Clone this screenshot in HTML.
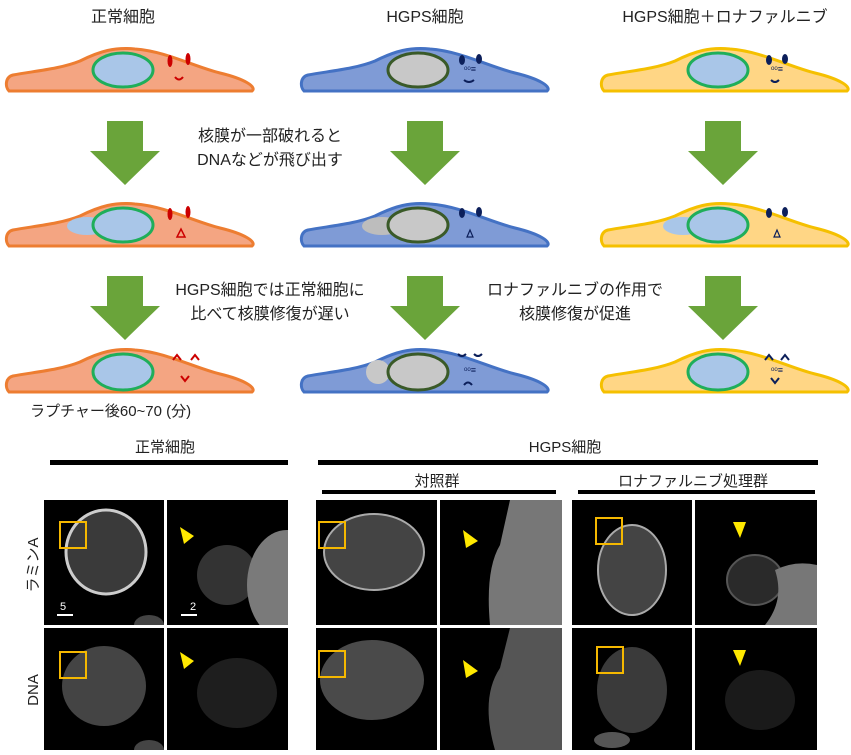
<html><head><style>
body{margin:0;background:#fff;width:851px;height:755px;overflow:hidden;font-family:"Liberation Sans","Noto Sans CJK JP",sans-serif;}
svg{position:absolute;left:0;top:0}
</style></head><body>
<svg width="851" height="755" viewBox="0 0 851 755" font-family="Liberation Sans, Noto Sans CJK JP, sans-serif">
<defs>
<path id="cell" d="M4,44 C0,40 0,30 8,28 C30,24 55,22 75,14 C95,4 110,0 130,2 C160,4 190,20 215,26 C240,32 252,40 247,44 Z"/>
<g id="arrow"><polygon points="17,0 53,0 53,30 70,30 35,64 0,30 17,30" fill="#6aa43a"/></g>
<radialGradient id="nuc" cx="50%" cy="50%" r="50%"><stop offset="0" stop-color="#9a9a9a"/><stop offset="0.85" stop-color="#6a6a6a"/><stop offset="1" stop-color="#d0d0d0"/></radialGradient>
<radialGradient id="blob" cx="50%" cy="50%" r="50%"><stop offset="0" stop-color="#666"/><stop offset="1" stop-color="#222"/></radialGradient>
</defs>
<g font-size="16" fill="#222" text-anchor="middle">
<text x="123" y="22">正常細胞</text>
<text x="425" y="22">HGPS細胞</text>
<text x="725" y="22">HGPS細胞＋ロナファルニブ</text>
<text x="270" y="141">核膜が一部破れると</text>
<text x="270" y="165">DNAなどが飛び出す</text>
<text x="270" y="295">HGPS細胞では正常細胞に</text>
<text x="270" y="319">比べて核膜修復が遅い</text>
<text x="575" y="295">ロナファルニブの作用で</text>
<text x="575" y="319">核膜修復が促進</text>
</g>
<g>
<g transform="translate(5,47)"><use href="#cell" fill="#f4a582" stroke="#ed7d31" stroke-width="3"/><ellipse cx="118" cy="23" rx="30" ry="17" fill="#a9c6e8" stroke="#1fae5a" stroke-width="3"/><ellipse cx="165" cy="14" rx="2.5" ry="6" fill="#c00"/><ellipse cx="183" cy="12" rx="2.5" ry="6" fill="#c00"/><path d="M170,30 q4,5 8,0" stroke="#c00" stroke-width="2" fill="none"/></g>
<g transform="translate(300,47)"><use href="#cell" fill="#7f9bd6" stroke="#4472c4" stroke-width="3"/><ellipse cx="118" cy="23" rx="30" ry="17" fill="#c8c8c8" stroke="#3a5a28" stroke-width="3"/><ellipse cx="162" cy="13" rx="3" ry="5" fill="#0c1f5a"/><ellipse cx="179" cy="12" rx="3" ry="5" fill="#0c1f5a"/><text x="170" y="25" font-size="9" fill="#0c1f5a" text-anchor="middle">ᵒᵒ≡</text><path d="M164,33 q5,4 10,0" stroke="#0c1f5a" stroke-width="2" fill="none"/></g>
<g transform="translate(600,47)"><use href="#cell" fill="#ffd685" stroke="#f5c000" stroke-width="3"/><ellipse cx="118" cy="23" rx="30" ry="17" fill="#a9c6e8" stroke="#1fae5a" stroke-width="3"/><ellipse cx="169" cy="13" rx="3" ry="5" fill="#0c1f5a"/><ellipse cx="185" cy="12" rx="3" ry="5" fill="#0c1f5a"/><text x="177" y="25" font-size="9" fill="#0c1f5a" text-anchor="middle">ᵒᵒ≡</text><path d="M171,33 q4,4 8,0" stroke="#0c1f5a" stroke-width="2" fill="none"/></g>
</g>
<g transform="translate(0,155)">
<g transform="translate(5,47)"><use href="#cell" fill="#f4a582" stroke="#ed7d31" stroke-width="3"/><ellipse cx="82" cy="24" rx="20" ry="9" fill="#a9c6e8"/><ellipse cx="118" cy="23" rx="30" ry="17" fill="#a9c6e8" stroke="#1fae5a" stroke-width="3"/><ellipse cx="165" cy="12" rx="2.5" ry="6" fill="#c00"/><ellipse cx="183" cy="10" rx="2.5" ry="6" fill="#c00"/><path d="M172,35 l4,-8 l4,8z" stroke="#c00" stroke-width="1.5" fill="none"/></g>
<g transform="translate(300,47)"><use href="#cell" fill="#7f9bd6" stroke="#4472c4" stroke-width="3"/><ellipse cx="82" cy="24" rx="20" ry="9" fill="#bdbdbd"/><ellipse cx="118" cy="23" rx="30" ry="17" fill="#c8c8c8" stroke="#3a5a28" stroke-width="3"/><ellipse cx="162" cy="11" rx="3" ry="5" fill="#0c1f5a"/><ellipse cx="179" cy="10" rx="3" ry="5" fill="#0c1f5a"/><path d="M167,35 l3,-7 l3,7z" stroke="#0c1f5a" stroke-width="1.2" fill="none"/></g>
<g transform="translate(600,47)"><use href="#cell" fill="#ffd685" stroke="#f5c000" stroke-width="3"/><ellipse cx="83" cy="24" rx="20" ry="9" fill="#a9c6e8"/><ellipse cx="118" cy="23" rx="30" ry="17" fill="#a9c6e8" stroke="#1fae5a" stroke-width="3"/><ellipse cx="169" cy="11" rx="3" ry="5" fill="#0c1f5a"/><ellipse cx="185" cy="10" rx="3" ry="5" fill="#0c1f5a"/><path d="M174,35 l3,-7 l3,7z" stroke="#0c1f5a" stroke-width="1.2" fill="none"/></g>
</g>
<g transform="translate(0,301)">
<g transform="translate(5,47)"><use href="#cell" fill="#f4a582" stroke="#ed7d31" stroke-width="3"/><ellipse cx="118" cy="24" rx="30" ry="18" fill="#a9c6e8" stroke="#1fae5a" stroke-width="3"/><path d="M168,12 l4,-5 l4,5 M186,12 l4,-5 l4,5 M176,28 l4,5 l4,-5" stroke="#c00" stroke-width="2" fill="none"/></g>
<g transform="translate(300,47)"><use href="#cell" fill="#7f9bd6" stroke="#4472c4" stroke-width="3"/><ellipse cx="78" cy="24" rx="12" ry="12" fill="#c8c8c8"/><ellipse cx="118" cy="24" rx="30" ry="18" fill="#c8c8c8" stroke="#3a5a28" stroke-width="3"/><path d="M158,6 q4,4 8,0 M174,6 q4,4 8,0 M164,37 q4,-5 8,0" stroke="#0c1f5a" stroke-width="2" fill="none"/><text x="170" y="25" font-size="9" fill="#0c1f5a" text-anchor="middle">ᵒᵒ≡</text></g>
<g transform="translate(600,47)"><use href="#cell" fill="#ffd685" stroke="#f5c000" stroke-width="3"/><ellipse cx="118" cy="24" rx="30" ry="18" fill="#a9c6e8" stroke="#1fae5a" stroke-width="3"/><path d="M165,12 l4,-5 l4,5 M181,12 l4,-5 l4,5 M171,30 l4,5 l4,-5" stroke="#0c1f5a" stroke-width="2" fill="none"/><text x="177" y="25" font-size="9" fill="#0c1f5a" text-anchor="middle">ᵒᵒ≡</text></g>
</g>
<use href="#arrow" x="90" y="121"/><use href="#arrow" x="390" y="121"/><use href="#arrow" x="688" y="121"/>
<use href="#arrow" x="90" y="276"/><use href="#arrow" x="390" y="276"/><use href="#arrow" x="688" y="276"/>
<g font-size="15" fill="#222" text-anchor="middle">
<text x="30" y="416" text-anchor="start">ラプチャー後60~70 (分)</text>
<text x="165" y="452">正常細胞</text>
<text x="565" y="452">HGPS細胞</text>
<text x="437" y="486">対照群</text>
<text x="693" y="486">ロナファルニブ処理群</text>
</g>
<rect x="50" y="460" width="238" height="5" fill="#000"/>
<rect x="318" y="460" width="500" height="5" fill="#000"/>
<rect x="322" y="490" width="234" height="4" fill="#000"/>
<rect x="578" y="490" width="237" height="4" fill="#000"/>
<text transform="translate(38,565) rotate(-90)" font-size="15" text-anchor="middle" fill="#222">ラミンA</text>
<text transform="translate(38,690) rotate(-90)" font-size="15" text-anchor="middle" fill="#222">DNA</text>

<svg x="44" y="500" width="120" height="125"><rect width="120" height="125" fill="#000"/><ellipse cx="62" cy="52" rx="40" ry="42" fill="#3a3a3a" stroke="#ccc" stroke-width="3"/><ellipse cx="105" cy="125" rx="15" ry="10" fill="#444"/><rect x="16" y="22" width="26" height="26" fill="none" stroke="#f5b800" stroke-width="2"/><text x="16" y="110" font-size="11" fill="#fff">5</text><rect x="13" y="114" width="16" height="2" fill="#fff"/></svg>
<svg x="167" y="500" width="121" height="125"><rect width="121" height="125" fill="#000"/><ellipse cx="60" cy="75" rx="30" ry="30" fill="#333"/><ellipse cx="120" cy="85" rx="40" ry="55" fill="#7a7a7a"/><polygon points="13,27 27,36 17,44" fill="#ffe800"/><text x="23" y="110" font-size="11" fill="#fff">2</text><rect x="14" y="114" width="16" height="2" fill="#fff"/></svg>
<svg x="316" y="500" width="121" height="125"><rect width="121" height="125" fill="#000"/><ellipse cx="58" cy="52" rx="50" ry="38" fill="#444" stroke="#aaa" stroke-width="2"/><rect x="3" y="22" width="26" height="26" fill="none" stroke="#f5b800" stroke-width="2"/></svg>
<svg x="440" y="500" width="122" height="125"><rect width="122" height="125" fill="#000"/><path d="M70,0 L122,0 L122,125 L50,125 Q45,70 60,45 Z" fill="#777"/><polygon points="23,30 38,41 26,48" fill="#ffe800"/></svg>
<svg x="572" y="500" width="120" height="125"><rect width="120" height="125" fill="#000"/><ellipse cx="60" cy="70" rx="34" ry="45" fill="#444" stroke="#aaa" stroke-width="2"/><rect x="24" y="18" width="26" height="26" fill="none" stroke="#f5b800" stroke-width="2"/></svg>
<svg x="695" y="500" width="122" height="125"><rect width="122" height="125" fill="#000"/><ellipse cx="60" cy="80" rx="28" ry="25" fill="#2a2a2a" stroke="#555" stroke-width="2"/><path d="M80,70 Q100,60 122,65 L122,125 L70,125 Q90,100 80,70Z" fill="#777"/><polygon points="38,22 51,22 45,38" fill="#ffe800"/></svg>
<svg x="44" y="628" width="120" height="122"><rect width="120" height="122" fill="#000"/><ellipse cx="60" cy="58" rx="42" ry="40" fill="#444"/><ellipse cx="105" cy="122" rx="15" ry="10" fill="#444"/><rect x="16" y="24" width="26" height="26" fill="none" stroke="#f5b800" stroke-width="2"/></svg>
<svg x="167" y="628" width="121" height="122"><rect width="121" height="122" fill="#000"/><ellipse cx="70" cy="65" rx="40" ry="35" fill="#1e1e1e"/><polygon points="13,24 27,33 17,41" fill="#ffe800"/></svg>
<svg x="316" y="628" width="121" height="122"><rect width="121" height="122" fill="#000"/><ellipse cx="56" cy="52" rx="52" ry="40" fill="#4a4a4a"/><rect x="3" y="23" width="26" height="26" fill="none" stroke="#f5b800" stroke-width="2"/></svg>
<svg x="440" y="628" width="122" height="122"><rect width="122" height="122" fill="#000"/><path d="M70,0 L122,0 L122,122 L55,122 Q40,70 60,40 Z" fill="#555"/><polygon points="23,32 38,43 26,50" fill="#ffe800"/></svg>
<svg x="572" y="628" width="120" height="122"><rect width="120" height="122" fill="#000"/><ellipse cx="60" cy="62" rx="35" ry="43" fill="#3a3a3a"/><ellipse cx="40" cy="112" rx="18" ry="8" fill="#555"/><rect x="25" y="19" width="26" height="26" fill="none" stroke="#f5b800" stroke-width="2"/></svg>
<svg x="695" y="628" width="122" height="122"><rect width="122" height="122" fill="#000"/><ellipse cx="65" cy="72" rx="35" ry="30" fill="#1a1a1a"/><polygon points="38,22 51,22 45,38" fill="#ffe800"/></svg>
</svg>
</body></html>
